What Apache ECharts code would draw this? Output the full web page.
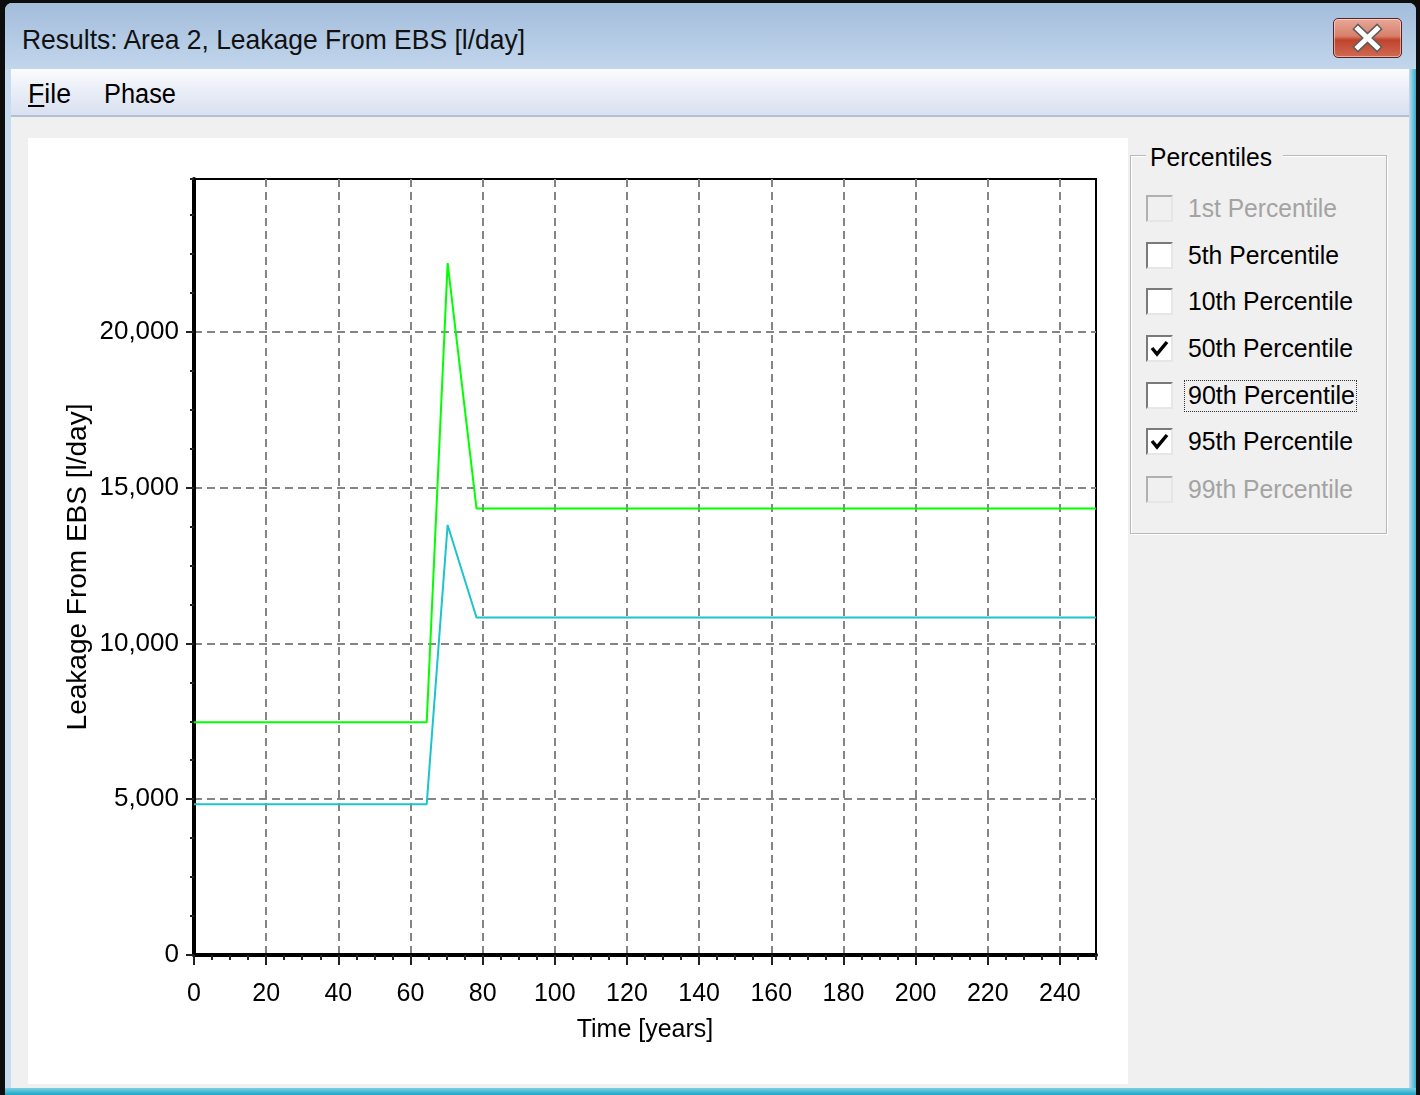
<!DOCTYPE html>
<html>
<head>
<meta charset="utf-8">
<script src="https://cdn.jsdelivr.net/npm/echarts@6/dist/echarts.min.js"></script>
<style>
  html, body { margin:0; padding:0; width:1420px; height:1095px; overflow:hidden; background:#0d0d0d; }
  .abs { position:absolute; }
  #win { left:5px; top:3px; width:1411px; height:1092px; background:#c9dbef; border-radius:7px 7px 0 0; }
  #titlebar { left:5px; top:3px; width:1411px; height:66px; border-radius:7px 7px 0 0;
    background:linear-gradient(to bottom,#a3bddb 0%,#b2c9e4 50%,#c2d6ec 100%); }
  #menubar { left:11px; top:69px; width:1398px; height:46px;
    background:linear-gradient(to bottom,#fbfcfe 0%,#eaeef7 45%,#d9e0ef 100%); border-bottom:2px solid #b5bfd2; }
  #client { left:11px; top:117px; width:1398px; height:971px; background:#f0f0f0; }
  #bottomedge { left:5px; top:1088px; width:1411px; height:7px; background:linear-gradient(to bottom,#7fd0e4,#1aa6c6); }
  #rightedge { left:1409px; top:69px; width:7px; height:1026px; background:linear-gradient(to right,#c8dcf0,#2db0d0); }
  .txt { font-family:"Liberation Sans", Arial, sans-serif; color:#000; white-space:nowrap; display:inline-block; transform-origin:left center; }
  #closebtn { left:1333px; top:18px; width:67px; height:38px; border-radius:5px; border:1px solid #5b2222;
    background:linear-gradient(to bottom,#e8a797 0%,#d7806b 45%,#c0432c 55%,#cf6a52 100%);
    box-shadow: inset 0 0 0 1px rgba(255,255,255,0.45); }
  #chartbox { left:28px; top:138px; width:1100px; height:946px; background:#fff; }
  #group { left:1130px; top:155px; width:255px; height:377px; border:1px solid #b9b9b9; box-shadow: 1px 1px 0 #fff inset, 1px 1px 0 #fff; }
  .cb { position:absolute; left:1146px; width:23px; height:23px; border-top:2px solid #7a7a7a; border-left:2px solid #7a7a7a;
        border-right:2px solid #e6e6e6; border-bottom:2px solid #e6e6e6; background:#fff; box-sizing:content-box; }
  .cb.dis { background:#f0f0f0; border-top-color:#b0b0b0; border-left-color:#b0b0b0; }
  #focus { left:1184px; top:380px; width:171px; height:30px; border:1px dotted #333; }
</style>
</head>
<body>
<div id="win" class="abs"></div>
<div id="titlebar" class="abs"></div>
<div class="abs" style="left:22px;top:22px;height:36px;line-height:36px;">
  <span id="title" class="txt" style="font-size:28px;color:#111;">Results: Area 2, Leakage From EBS [l/day]</span>
</div>
<div id="closebtn" class="abs">
  <svg width="67" height="38" style="position:absolute;left:0;top:0">
    <path d="M24 10 L33.5 19 L43 10 M24 28 L33.5 19 L43 28" stroke="#5e5e5e" stroke-width="8" fill="none" stroke-linecap="square"/>
    <path d="M24 10 L33.5 19 L43 10 M24 28 L33.5 19 L43 28" stroke="#ffffff" stroke-width="5" fill="none" stroke-linecap="square"/>
  </svg>
</div>
<div id="menubar" class="abs"></div>
<div class="abs" style="left:28px;top:76px;height:36px;line-height:36px;">
  <span id="mfile" class="txt" style="font-size:27px;"><u>F</u>ile</span>
</div>
<div class="abs" style="left:104px;top:76px;height:36px;line-height:36px;">
  <span id="mphase" class="txt" style="font-size:27px;">Phase</span>
</div>
<div id="client" class="abs"></div>
<div id="rightedge" class="abs"></div>
<div id="bottomedge" class="abs"></div>
<div id="chartbox" class="abs"></div>

<div id="group" class="abs"></div>
<div class="abs" style="left:1146px;top:140px;height:34px;line-height:34px;background:#f0f0f0;padding:0 4px;">
  <span id="gtitle" class="txt" style="font-size:26px;">Percentiles</span>
</div>

<div id="cbs"></div>

<script>
// ---- data ----
const timeYears = [0, 64.5, 70.3, 78.3, 250];
const p95Leakage = [7470, 7470, 22200, 14330, 14330];
const p50Leakage = [4840, 4840, 13800, 10830, 10830];
const xTickInterval = 20;
const yTickInterval = 5000;
const percentileLabels = ["1st Percentile","5th Percentile","10th Percentile","50th Percentile","90th Percentile","95th Percentile","99th Percentile"];
const percentileChecked = [false,false,false,true,false,true,false];
const percentileEnabled = [false,true,true,true,true,true,false];

// ---- checkbox panel ----
const rowCenters = [208,255,301,348,395,441,489];
const labelWidths = [149,151,165,165,167,165,165];
const cbs = document.getElementById('cbs');
percentileLabels.forEach((t,i)=>{
  const cy = rowCenters[i];
  const b = document.createElement('div');
  b.className = 'cb' + (percentileEnabled[i] ? '' : ' dis');
  b.style.top = (cy-13)+'px';
  if (percentileChecked[i]) {
    b.innerHTML = '<svg width="23" height="23" style="position:absolute;left:0;top:0"><path d="M4 11 L9 17 L19 5" stroke="#000" stroke-width="3.5" fill="none"/></svg>';
  }
  cbs.appendChild(b);
  const w = document.createElement('div');
  w.className = 'abs';
  w.style.cssText = 'left:1188px;top:'+(cy-17)+'px;height:34px;line-height:34px;';
  const s = document.createElement('span');
  s.className = 'txt';
  s.style.fontSize = '26px';
  if (!percentileEnabled[i]) s.style.color = '#a3a3a3';
  s.textContent = t;
  s.dataset.w = labelWidths[i];
  w.appendChild(s);
  cbs.appendChild(w);
});
const f = document.createElement('div');
f.id = 'focus'; f.className = 'abs';
cbs.appendChild(f);

function fit(el, w){
  const r = el.getBoundingClientRect().width;
  if (r > 0) el.style.transform = 'scaleX(' + (w/r) + ')';
}
fit(document.getElementById('title'), 503);
fit(document.getElementById('mfile'), 43);
fit(document.getElementById('mphase'), 72);
fit(document.getElementById('gtitle'), 122);
document.querySelectorAll('#cbs span.txt').forEach(s=>fit(s, +s.dataset.w));

// ---- chart ----
const chart = echarts.init(document.getElementById('chartbox'), null, {renderer:'canvas'});
const font = 'Liberation Sans, Arial, sans-serif';
const fmt = v => v.toLocaleString('en-US');
const gridLine = { show:true, showMinLine:false, showMaxLine:false, lineStyle:{ color:'#858585', width:2, type:[8,5] } };
chart.setOption({
  animation:false,
  backgroundColor:'#ffffff',
  grid:{ left:166, top:41, right:32, bottom:129, show:true, borderColor:'#000', borderWidth:2, backgroundColor:'transparent' },
  xAxis:[{
    type:'value', min:0, max:250, interval:xTickInterval,
    name:'Time [years]', nameLocation:'middle', nameGap:63, nameMoveOverlap:false,
    nameTextStyle:{ fontSize:25, color:'#000', fontFamily:font },
    axisLine:{ show:true, onZero:false, lineStyle:{ color:'#000', width:4 } },
    axisTick:{ show:true, length:10, lineStyle:{ color:'#222', width:2 } },
    axisLabel:{ fontSize:25, color:'#000', margin:27, fontFamily:font, showMaxLabel:false },
    splitLine:gridLine
  },{
    type:'value', min:0, max:250, interval:5, position:'bottom',
    axisLine:{ show:false }, axisLabel:{ show:false }, splitLine:{ show:false },
    axisTick:{ show:true, length:5, lineStyle:{ color:'#222', width:2 } }
  }],
  yAxis:[{
    type:'value', min:0, max:24900, interval:yTickInterval,
    name:'Leakage From EBS [l/day]', nameLocation:'middle', nameGap:102, nameMoveOverlap:false,
    nameTextStyle:{ fontSize:28, color:'#000', fontFamily:font },
    axisLine:{ show:true, onZero:false, lineStyle:{ color:'#000', width:4 } },
    axisTick:{ show:true, length:8, lineStyle:{ color:'#222', width:2 } },
    axisLabel:{ fontSize:26, color:'#000', margin:15, fontFamily:font, showMaxLabel:false, formatter:fmt },
    splitLine:gridLine
  },{
    type:'value', min:0, max:24900, interval:1250, position:'left',
    axisLine:{ show:false }, axisLabel:{ show:false }, splitLine:{ show:false },
    axisTick:{ show:true, length:4, lineStyle:{ color:'#222', width:2 } }
  }],
  series:[{
    name:'95th Percentile', type:'line', xAxisIndex:0, yAxisIndex:0, symbol:'none',
    lineStyle:{ color:'#00ff00', width:2 }, itemStyle:{ color:'#00ff00' },
    data: timeYears.map((t,i)=>[t, p95Leakage[i]])
  },{
    name:'50th Percentile', type:'line', xAxisIndex:0, yAxisIndex:0, symbol:'none',
    lineStyle:{ color:'#1cc4cc', width:2 }, itemStyle:{ color:'#1cc4cc' },
    data: timeYears.map((t,i)=>[t, p50Leakage[i]])
  }]
});
</script>
</body>
</html>
